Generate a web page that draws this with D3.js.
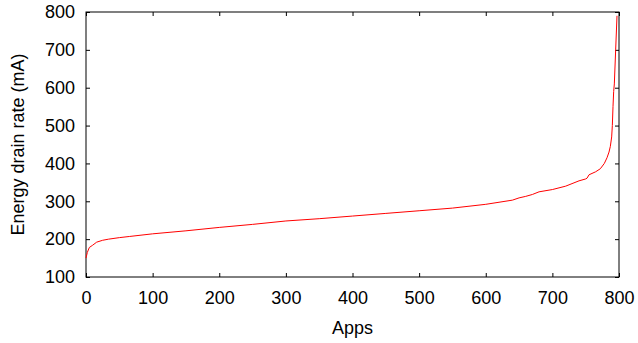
<!DOCTYPE html>
<html>
<head>
<meta charset="utf-8">
<script src="https://cdn.jsdelivr.net/npm/d3@7"></script>
<style>
  body { margin: 0; background: #fff; }
  svg text { font-family: "Liberation Sans", Arial, sans-serif; fill: #000; }
</style>
</head>
<body>
<div id="chart"></div>
<script>
// apps sorted by drain rate
const apps = [0, 2, 5, 10, 16, 25, 34, 50, 65, 100, 150, 200, 250, 300, 350, 400, 450, 500,
  550, 600, 640, 650, 660, 670, 680, 700, 720, 740, 750, 752, 755, 765, 772, 778, 782, 785,
  787, 789, 790, 791, 792, 793, 795, 797]
const drain = [150, 165, 178, 184, 192, 197, 200, 204, 207, 214, 222, 231, 239, 248, 254, 261, 268, 275,
  282, 292, 303, 309, 313, 318, 325, 331, 340, 354, 359, 361, 370, 378, 386, 400, 415, 430,
  445, 470, 500, 550, 590, 610, 700, 790]

const xTicks = [0, 100, 200, 300, 400, 500, 600, 700, 800]
const yTicks = [100, 200, 300, 400, 500, 600, 700, 800]

const width = 638
const height = 343
const margin = { top: 12, right: 19, bottom: 66, left: 86 }
const w = width - margin.left - margin.right
const h = height - margin.top - margin.bottom

const svg = d3.select('#chart').append('svg')
  .attr('width', width)
  .attr('height', height)

const g = svg.append('g')
  .attr('transform', `translate(${margin.left},${margin.top})`)

const x = d3.scaleLinear().domain([0, 800]).range([0, w])
const y = d3.scaleLinear().domain([100, 800]).range([h, 0])

const tickLen = 4

// ticks point inward on all four sides, gnuplot style
g.append('g')
  .attr('transform', `translate(0,${h})`)
  .call(d3.axisBottom(x).tickValues(xTicks).tickSizeInner(-tickLen).tickSizeOuter(0).tickPadding(14))
g.append('g')
  .call(d3.axisTop(x).tickValues(xTicks).tickSizeInner(-tickLen).tickSizeOuter(0).tickFormat(''))
g.append('g')
  .call(d3.axisLeft(y).tickValues(yTicks).tickSizeInner(-tickLen).tickSizeOuter(0).tickPadding(11))
g.append('g')
  .attr('transform', `translate(${w},0)`)
  .call(d3.axisRight(y).tickValues(yTicks).tickSizeInner(-tickLen).tickSizeOuter(0).tickFormat(''))

g.selectAll('.domain').remove()
g.selectAll('.tick line').attr('stroke', '#000')
g.selectAll('.tick text').style('font-size', '18px')

g.append('rect')
  .attr('width', w)
  .attr('height', h)
  .attr('fill', 'none')
  .attr('stroke', '#000')
  .attr('stroke-width', 1)

const line = d3.line()
  .x((d, i) => x(apps[i]))
  .y(d => y(d))

g.append('path')
  .datum(drain)
  .attr('d', line)
  .attr('fill', 'none')
  .attr('stroke', '#ff0000')
  .attr('stroke-width', 1)

svg.append('text')
  .attr('x', margin.left + w / 2)
  .attr('y', 334)
  .attr('text-anchor', 'middle')
  .style('font-size', '18px')
  .text('Apps')

svg.append('text')
  .attr('transform', `translate(24,${margin.top + h / 2}) rotate(-90)`)
  .attr('text-anchor', 'middle')
  .style('font-size', '18px')
  .text('Energy drain rate (mA)')
</script>
</body>
</html>
